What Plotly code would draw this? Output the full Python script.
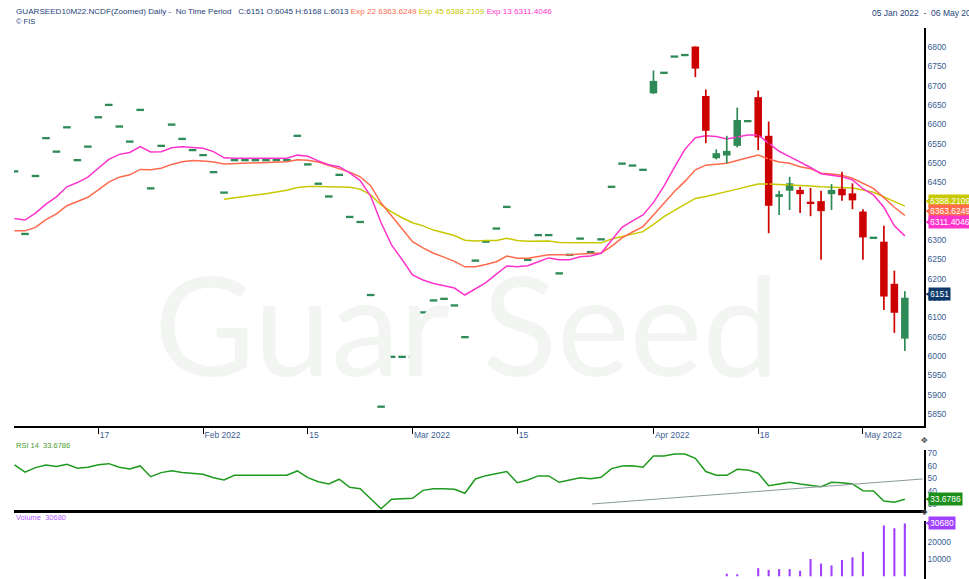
import pandas as pd
import plotly.graph_objects as go

# ---------------- data ----------------
holidays = ["2022-01-26", "2022-04-15"]
dates = [d for d in pd.bdate_range("2022-01-05", "2022-05-06") if d.strftime("%Y-%m-%d") not in holidays]
date_str = [d.strftime("%Y-%m-%d") for d in dates]
idx = list(range(len(dates)))

tick_dates = ["2022-01-17", "2022-02-01", "2022-02-15", "2022-03-01",
              "2022-03-15", "2022-04-01", "2022-04-18", "2022-05-02"]
tick_labels = ["17", "Feb 2022", "15", "Mar 2022", "15", "Apr 2022", "18", "May 2022"]

opens = [6478, 6316, 6466, 6564, 6529, 6592, 6507, 6542, 6618, 6650,
         6594, 6555, 6637, 6434, 6544, 6599, 6562, 6533, 6520, 6476,
         6423, 6507, 6507, 6507, 6507, 6507, 6507, 6570, 6496, 6446,
         6413, 6469, 6360, 6347, 6158, 5869, 5998, 5998, 5998, 6113,
         6144, 6148, 6131, 6049, 6247, 6296, 6330, 6386, 6197, 6249,
         6313, 6313, 6214, 6262, 6304, 6269, 6302, 6438, 6498, 6493,
         6482, 6680, 6733, 6775, 6779, 6801, 6673, 6512, 6519, 6544,
         6608, 6670, 6570, 6412, 6428, 6430, 6398, 6401, 6419, 6433,
         6421, 6374, 6306, 6296, 6187, 6045]
highs = [6478, 6316, 6466, 6564, 6529, 6592, 6507, 6542, 6618, 6650,
         6594, 6555, 6637, 6434, 6544, 6599, 6562, 6533, 6520, 6476,
         6423, 6507, 6507, 6507, 6507, 6507, 6507, 6570, 6496, 6446,
         6413, 6469, 6360, 6347, 6158, 5869, 5998, 5998, 5998, 6113,
         6144, 6148, 6131, 6049, 6247, 6296, 6330, 6386, 6197, 6249,
         6313, 6313, 6214, 6262, 6304, 6269, 6302, 6438, 6498, 6493,
         6482, 6739, 6733, 6775, 6779, 6801, 6690, 6535, 6570, 6643,
         6608, 6687, 6607, 6428, 6464, 6438, 6435, 6428, 6445, 6477,
         6447, 6380, 6306, 6337, 6221, 6168]
lows = [6478, 6316, 6466, 6564, 6529, 6592, 6507, 6542, 6618, 6650,
        6594, 6555, 6637, 6434, 6544, 6599, 6562, 6533, 6520, 6476,
        6423, 6507, 6507, 6507, 6507, 6507, 6507, 6570, 6496, 6446,
        6413, 6469, 6360, 6347, 6158, 5869, 5998, 5998, 5998, 6113,
        6144, 6148, 6131, 6049, 6247, 6296, 6330, 6386, 6197, 6249,
        6313, 6313, 6214, 6262, 6304, 6269, 6302, 6438, 6498, 6493,
        6482, 6678, 6733, 6775, 6779, 6722, 6551, 6509, 6499, 6540,
        6608, 6533, 6318, 6365, 6378, 6370, 6362, 6249, 6378, 6402,
        6380, 6249, 6306, 6119, 6060, 6013]
closes = [6478, 6316, 6466, 6564, 6529, 6592, 6507, 6542, 6618, 6650,
          6594, 6555, 6637, 6434, 6544, 6599, 6562, 6533, 6520, 6476,
          6423, 6507, 6507, 6507, 6507, 6507, 6507, 6570, 6496, 6446,
          6413, 6469, 6360, 6347, 6158, 5869, 5998, 5998, 5998, 6113,
          6144, 6148, 6131, 6049, 6247, 6296, 6330, 6386, 6197, 6249,
          6313, 6313, 6214, 6262, 6304, 6269, 6302, 6438, 6498, 6493,
          6482, 6712, 6733, 6775, 6779, 6744, 6583, 6525, 6531, 6611,
          6608, 6566, 6389, 6419, 6447, 6419, 6395, 6375, 6430, 6416,
          6403, 6307, 6306, 6154, 6112, 6151]

ema13 = [6356, 6352, 6370, 6393, 6412, 6438, 6449, 6463, 6486, 6509,
         6522, 6527, 6542, 6528, 6529, 6539, 6542, 6540, 6538, 6529,
         6513, 6512, 6512, 6512, 6512, 6512, 6512, 6520, 6517, 6505,
         6495, 6490, 6474, 6454, 6414, 6345, 6287, 6250, 6210, 6197,
         6188, 6182, 6176, 6158, 6173, 6190, 6212, 6233, 6231, 6234,
         6244, 6254, 6249, 6249, 6257, 6259, 6266, 6300, 6333, 6350,
         6365, 6397, 6440, 6488, 6535, 6565, 6570, 6568, 6562, 6567,
         6572, 6572, 6552, 6530, 6516, 6503, 6488, 6472, 6468, 6464,
         6456, 6433, 6417, 6385, 6337, 6311]
ema22 = [6324, 6324, 6333, 6353, 6368, 6389, 6400, 6411, 6430, 6450,
         6463, 6469, 6483, 6482, 6486, 6496, 6503, 6506, 6505, 6502,
         6497, 6498, 6499, 6500, 6501, 6502, 6503, 6508, 6507, 6502,
         6494, 6486, 6476, 6464, 6441, 6396, 6362, 6330, 6296, 6280,
         6266, 6256, 6245, 6231, 6231, 6237, 6244, 6259, 6253, 6253,
         6257, 6262, 6262, 6262, 6264, 6266, 6267, 6284, 6306, 6321,
         6335, 6365, 6397, 6426, 6452, 6482, 6494, 6497, 6499, 6506,
         6514, 6520, 6510, 6502, 6499, 6490, 6485, 6473, 6471, 6468,
         6460, 6448, 6434, 6410, 6385, 6364]
ema45 = [None] * 20 + [
         6406, 6410, 6413, 6417, 6420, 6424, 6429, 6436, 6439, 6439,
         6438, 6438, 6437, 6432, 6417, 6391, 6373, 6358, 6345, 6337,
         6326, 6319, 6312, 6300, 6298, 6299, 6299, 6305, 6299, 6297,
         6298, 6298, 6294, 6293, 6293, 6293, 6293, 6303, 6309, 6316,
         6322, 6341, 6361, 6377, 6393, 6408, 6413, 6419, 6425, 6432,
         6439, 6445, 6445, 6444, 6443, 6441, 6440, 6438, 6437, 6437,
         6435, 6430, 6424, 6412, 6400, 6388]

rsi = [60.6, 54.9, 58.5, 60.6, 59.3, 61.1, 58.0, 58.8, 60.8, 61.6,
       58.8, 57.5, 59.8, 51.4, 54.6, 56.1, 54.6, 53.8, 53.3, 50.6,
       48.8, 52.5, 52.5, 52.5, 52.5, 52.5, 52.5, 55.9, 50.6, 47.5,
       45.7, 49.4, 43.1, 42.0, 34.5, 26.3, 33.7, 33.9, 34.5, 40.7,
       42.0, 42.0, 41.5, 38.4, 49.6, 52.2, 54.1, 55.4, 46.7, 48.8,
       52.0, 52.0, 47.0, 48.8, 50.6, 49.8, 50.9, 57.7, 59.8, 60.0,
       58.8, 67.6, 67.6, 69.2, 69.2, 65.8, 55.4, 52.5, 52.5, 57.2,
       56.7, 54.1, 44.4, 45.7, 47.0, 45.7, 44.4, 43.6, 47.0, 46.7,
       45.7, 40.4, 40.2, 32.4, 31.3, 33.6786]
trend_x = [55.1, 86.7]
trend_y = [30.0, 49.6]

volume = [0] * 68 + [1500, 1200,
                     0, 4700, 3700, 4200, 4200, 3200, 10000, 7400, 6300, 9500,
                     11000, 14200, 0, 29500, 27900, 30680]

exp_names = ["Exp 22", "Exp 45", "Exp 13"]
exp_last = [6363.6249, 6388.2109, 6311.4046]
rsi_last = 33.6786
vol_last = 30680

# ---------------- style ----------------
GREEN = "#2e8b57"
RED = "#cc0000"
PINK = "#ff33cc"
ORANGE = "#ff6a4d"
YELLOW = "#c8c800"
NAVY = "#1f3f7a"
TICKC = "#3b5e93"
FONT = "Liberation Sans"
XR = [-0.05, 86.83]

fig = go.Figure()

# watermark
fig.add_trace(go.Scatter(x=[43.2], y=[6038], mode="text", text=["Guar Seed"],
                         textfont=dict(family="Lato", size=138, color="#f2f5f2"),
                         hoverinfo="skip", xaxis="x", yaxis="y"))

# EMA lines
for vals, col in [(ema45, YELLOW), (ema22, ORANGE), (ema13, PINK)]:
    fig.add_trace(go.Scatter(x=idx, y=vals, mode="lines", line=dict(color=col, width=1.5),
                             xaxis="x", yaxis="y", hoverinfo="skip"))

# candles
MINH = 6
for up, col in [(True, GREEN), (False, RED)]:
    wx, wy, bx, bb, bh = [], [], [], [], []
    for i, o, h, l, c in zip(idx, opens, highs, lows, closes):
        if (c >= o) != up:
            continue
        if h > l:
            wx += [i, i, None]
            wy += [l, h, None]
        bx.append(i)
        if abs(c - o) >= MINH:
            bb.append(min(o, c))
            bh.append(abs(c - o))
        else:
            bb.append((o + c) / 2 - MINH / 2)
            bh.append(MINH)
    fig.add_trace(go.Scatter(x=wx, y=wy, mode="lines", line=dict(color=col, width=1.7),
                             xaxis="x", yaxis="y", hoverinfo="skip"))
    fig.add_trace(go.Bar(x=bx, y=bh, base=bb, width=0.72, marker=dict(color=col, line=dict(width=0)),
                         xaxis="x", yaxis="y", hoverinfo="skip"))

# RSI
fig.add_trace(go.Scatter(x=idx, y=rsi, mode="lines", line=dict(color="#1f9a1f", width=1.5),
                         xaxis="x2", yaxis="y2", hoverinfo="skip"))
fig.add_trace(go.Scatter(x=trend_x, y=trend_y, mode="lines", line=dict(color="#8a9a9a", width=1),
                         xaxis="x2", yaxis="y2", hoverinfo="skip"))

# Volume
fig.add_trace(go.Bar(x=idx, y=volume, width=0.2, marker=dict(color="#a040ff", line=dict(width=0)),
                     xaxis="x3", yaxis="y3", hoverinfo="skip"))

# ---------------- layout ----------------
H = 579
def dom(top_px, bot_px):
    return [(H - bot_px) / H, (H - top_px) / H]

axis_common = dict(showgrid=False, zeroline=False, automargin=False)
tf = dict(family=FONT, size=8.5, color=TICKC)
fig.update_layout(
    width=969, height=579,
    margin=dict(l=14, r=45, t=0, b=0, autoexpand=False),
    paper_bgcolor="white", plot_bgcolor="white",
    showlegend=False, barmode="overlay",
    font=dict(family=FONT, size=9, color=TICKC),
    xaxis=dict(domain=[0, 1], range=XR, anchor="y", showline=True, linecolor="black", linewidth=2,
               ticks="outside", ticklen=6, tickcolor="black", tickwidth=1,
               tickvals=[date_str.index(t) for t in tick_dates], ticktext=tick_labels,
               ticklabelposition="outside right", tickfont=tf, **axis_common),
    yaxis=dict(domain=dom(28, 426), range=[5819, 6849], side="right", anchor="x",
               showline=True, linecolor="black", linewidth=1.5, ticks="",
               tickvals=list(range(5850, 6801, 50)), tickfont=tf, **axis_common),
    xaxis2=dict(domain=[0, 1], range=XR, anchor="y2", showline=True, linecolor="black", linewidth=3,
                showticklabels=False, ticks="", **axis_common),
    yaxis2=dict(domain=dom(450, 510), range=[25.3, 72.3], side="right", anchor="x2",
                showline=True, linecolor="black", linewidth=1.5, ticks="",
                tickvals=[30, 40, 50, 60, 70], tickfont=tf, **axis_common),
    xaxis3=dict(domain=[0, 1], range=XR, anchor="y3", visible=False, **axis_common),
    yaxis3=dict(domain=dom(521, 579), range=[-1580, 32100], side="right", anchor="x3",
                showline=True, linecolor="black", linewidth=1.5, ticks="",
                tickvals=[0, 10000, 20000], tickformat="d", tickfont=tf, **axis_common),
)

# header
ohlc = f"C:{closes[-1]} O:{opens[-1]} H:{highs[-1]} L:{lows[-1]}"
exp_cols = [ORANGE, YELLOW, PINK]
hdr = (f'<span style="color:{NAVY}">GUARSEED10M22.NCDF(Zoomed) Daily -&nbsp; No Time Period &nbsp; {ohlc}</span> '
       + " ".join(f'<span style="color:{c}">{n} {v:.4f}</span>' for n, v, c in zip(exp_names, exp_last, exp_cols)))
ann = []
ann.append(dict(xref="paper", yref="paper", x=0, y=(H - 12) / H, xanchor="left", yanchor="middle",
                text=hdr, showarrow=False, font=dict(family=FONT, size=8.1)))
ann.append(dict(xref="paper", yref="paper", x=0, y=(H - 22) / H, xanchor="left", yanchor="middle",
                text="© FIS", showarrow=False, font=dict(family=FONT, size=7.5, color=NAVY)))
ann.append(dict(xref="paper", yref="paper", x=(870 - 14) / 910, y=(H - 13) / H, xanchor="left", yanchor="middle",
                text=f"{dates[0].strftime('%d %b %Y')}&nbsp; -&nbsp; {dates[-1].strftime('%d %b %Y')}",
                showarrow=False, font=dict(family=FONT, size=8.5, color=NAVY)))
ann.append(dict(xref="paper", yref="paper", x=0, y=(H - 445) / H, xanchor="left", yanchor="middle",
                text=f"RSI 14&nbsp; {rsi_last:.4f}", showarrow=False, font=dict(family=FONT, size=7.5, color="#4a9e2f")))
ann.append(dict(xref="paper", yref="paper", x=0, y=(H - 517) / H, xanchor="left", yanchor="middle",
                text=f"Volume&nbsp; {vol_last}", showarrow=False, font=dict(family=FONT, size=7.5, color="#b15cff")))
# panel drag handles
for yp in [440, 512]:
    ann.append(dict(xref="paper", yref="paper", x=1, y=(H - yp) / H, xanchor="center", yanchor="middle",
                    text="✥", showarrow=False, font=dict(family="DejaVu Sans", size=8, color="#444444")))

# right-side value tags
tags = [
    ("y", exp_last[1], YELLOW, f"{exp_last[1]:.4f}", 5),
    ("y", exp_last[0], ORANGE, f"{exp_last[0]:.4f}", 5),
    ("y", exp_last[2], PINK, f"{exp_last[2]:.4f}", 14),
    ("y", closes[-1], "#0d3a6a", f"{closes[-1]}", 4),
    ("y2", rsi_last, "#1a8f1a", f"{rsi_last:.4f}", 0),
    ("y3", vol_last, "#a040ff", f"{vol_last}", 0),
]
for yr, v, col, txt, ys in tags:
    ann.append(dict(xref="paper", yref=yr, x=1, y=v, xanchor="left", yanchor="middle", xshift=4, yshift=ys,
                    text=txt, showarrow=False, bgcolor=col, borderpad=1,
                    font=dict(family=FONT, size=8.5, color="white")))
    ann.append(dict(xref="paper", yref=yr, x=1, y=v, xanchor="left", yanchor="middle", xshift=-1, yshift=ys,
                    text="◀", showarrow=False, font=dict(family="DejaVu Sans", size=7, color=col)))

fig.update_layout(annotations=ann)
fig.write_html("out.html", config={"displayModeBar": False},
               post_script="document.body.style.margin='0px';document.body.style.overflow='hidden';")
